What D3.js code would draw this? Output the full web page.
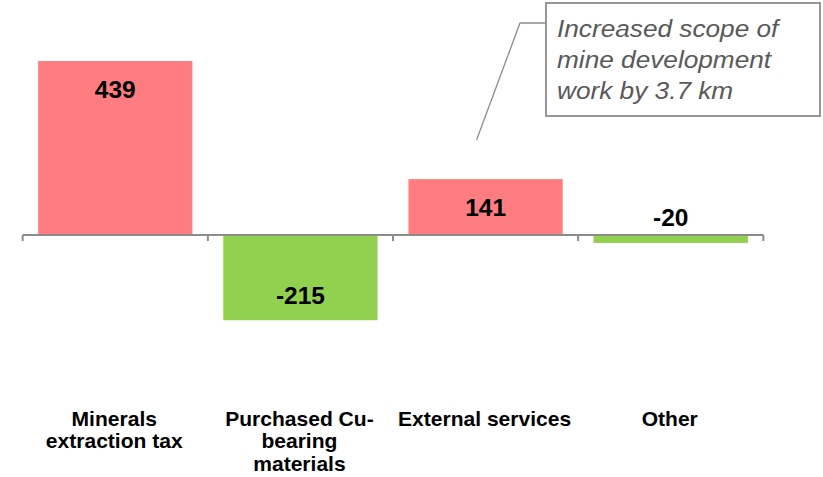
<!DOCTYPE html>
<html>
<head>
<meta charset="utf-8">
<script src="https://cdn.jsdelivr.net/npm/d3@7"></script>
<style>
  html, body { margin: 0; padding: 0; background: #fff; }
  svg { display: block; font-family: "Liberation Sans", Arial, sans-serif; }
</style>
</head>
<body>
<svg id="chart" width="823" height="477"></svg>
<script>
// Cost change drivers
const categories = ["Minerals extraction tax", "Purchased Cu-bearing materials", "External services", "Other"];
const categoryLines = [["Minerals", "extraction tax"], ["Purchased Cu-", "bearing", "materials"], ["External services"], ["Other"]];
const values = [439, -215, 141, -20];
const noteLines = ["Increased scope of", "mine development", "work by 3.7 km"];
const noteCategory = "External services";

const colorUp = "#FF7C80";
const colorDown = "#92D050";

const svg = d3.select("#chart");

const x = d3.scaleBand()
  .domain(categories)
  .range([22.7, 763.3])
  .paddingInner(0.1667)
  .paddingOuter(0.0833);

const k = 174 / 439;
const y = d3.scaleLinear()
  .domain([-300, 500])
  .range([235 + 300 * k, 235 - 500 * k]);

const data = categories.map((c, i) => ({ cat: c, value: values[i], lines: categoryLines[i] }));

// bars
svg.append("g").selectAll("rect")
  .data(data)
  .join("rect")
  .attr("x", d => x(d.cat))
  .attr("width", x.bandwidth())
  .attr("y", d => y(Math.max(0, d.value)))
  .attr("height", d => Math.abs(y(d.value) - y(0)))
  .attr("fill", d => d.value >= 0 ? colorUp : colorDown);

// category axis: baseline with ticks at band boundaries
const half = (x.step() - x.bandwidth()) / 2;
const bounds = categories.map(c => x(c) - half).concat([x(categories[categories.length - 1]) + x.bandwidth() + half]);
const axis = svg.append("g").attr("stroke", "#8C8C8C").attr("stroke-width", 2).attr("fill", "none");
axis.append("line")
  .attr("x1", bounds[0]).attr("x2", bounds[bounds.length - 1])
  .attr("y1", y(0)).attr("y2", y(0));
axis.selectAll("line.tick")
  .data(bounds)
  .join("line")
  .attr("class", "tick")
  .attr("x1", d => d).attr("x2", d => d)
  .attr("y1", y(0)).attr("y2", y(0) + 6);

// value labels
svg.append("g").selectAll("text")
  .data(data)
  .join("text")
  .attr("text-anchor", "middle")
  .attr("font-weight", "bold")
  .attr("font-size", 24.5)
  .attr("fill", "#000")
  .attr("transform", d => {
    const cx = x(d.cat) + x.bandwidth() / 2;
    let by;
    if (Math.abs(y(d.value) - y(0)) < 30) by = y(0) - 9;
    else if (d.value >= 0) by = y(d.value) + 37;
    else by = y(d.value) - 16;
    return `translate(${cx},${by})`;
  })
  .text(d => d.value);

// category labels
const labels = svg.append("g").selectAll("text")
  .data(data)
  .join("text")
  .attr("text-anchor", "middle")
  .attr("font-weight", "bold")
  .attr("font-size", 19.5)
  .attr("fill", "#000")
  .attr("transform", d => `translate(${x(d.cat) + x.bandwidth() / 2 - 1},426) scale(1.08,1)`);
labels.selectAll("tspan")
  .data(d => d.lines)
  .join("tspan")
  .attr("x", 0)
  .attr("y", (d, i) => i * 22.5)
  .text(d => d);

// callout for external services
const noteX = x(noteCategory) + x.bandwidth() / 2;
const note = svg.append("g");
note.append("polyline")
  .attr("points", `${546},${23} ${520},${23} ${noteX - 9},${140}`)
  .attr("fill", "none")
  .attr("stroke", "#8C8C8C")
  .attr("stroke-width", 1.3);
note.append("rect")
  .attr("x", 546).attr("y", 3)
  .attr("width", 274).attr("height", 113)
  .attr("fill", "#fff")
  .attr("stroke", "#8C8C8C")
  .attr("stroke-width", 1.8);
note.append("text")
  .attr("font-style", "italic")
  .attr("font-size", 24.5)
  .attr("fill", "#595959")
  .attr("transform", "translate(557,37) scale(1.07,1)")
  .selectAll("tspan")
  .data(noteLines)
  .join("tspan")
  .attr("x", 0)
  .attr("y", (d, i) => i * 31)
  .text(d => d);
</script>
</body>
</html>
